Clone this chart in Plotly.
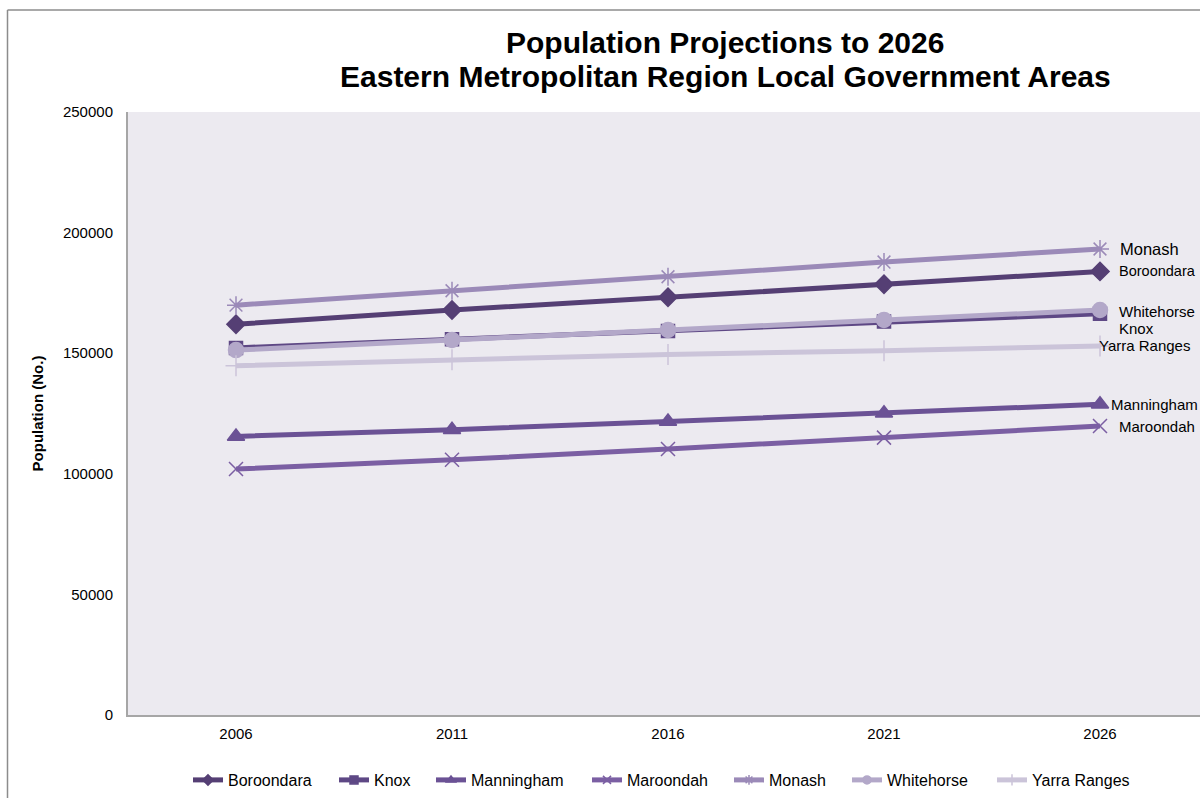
import plotly.graph_objects as go

# Population projections, Eastern Metropolitan Region LGAs
years = ["2006", "2011", "2016", "2021", "2026"]

boroondara = [162000, 167900, 173200, 178600, 183900]
knox = [152200, 155800, 159200, 163100, 166400]
manningham = [115500, 118300, 121700, 125100, 128800]
maroondah = [102000, 105800, 110300, 115000, 119800]
monash = [169900, 175900, 181700, 187800, 193200]
whitehorse = [151300, 155500, 159600, 163800, 167900]
yarra_ranges = [144800, 147300, 149500, 151000, 153000]

series = [
    ("Boroondara", boroondara, "#553f74", "diamond", 14),
    ("Knox", knox, "#5e4885", "square", 13),
    ("Manningham", manningham, "#6b5295", "triangle-up", 15),
    ("Maroondah", maroondah, "#7b5fa3", "x-thin-open", 14),
    ("Monash", monash, "#9b8ab8", "asterisk-open", 15),
    ("Whitehorse", whitehorse, "#b3a8c9", "circle", 15),
    ("Yarra Ranges", yarra_ranges, "#cbc4d9", "cross-thin-open", 15),
]

# End-of-line labels: (x offset px, downward shift px, font size)
end_labels = {
    "Monash": (18, 0, 16.5),
    "Boroondara": (17, 0, 14.5),
    "Whitehorse": (17, 1, 15),
    "Knox": (17, 15, 15),
    "Yarra Ranges": (-3, 0, 15),
    "Manningham": (9, 0, 15),
    "Maroondah": (17, 0, 15),
}

# Left edge of each legend entry's text, in pixels
legend_text_px = [228, 374, 471, 627, 769, 887, 1032]

FONT = "Liberation Sans, Arial"
PLOT_L, PLOT_R, PLOT_T, PLOT_B = 128, 1200, 112, 715
PW, PH = PLOT_R - PLOT_L, PLOT_B - PLOT_T


def px_x(px):
    return (px - PLOT_L) / PW


def px_y(py):
    return (PLOT_B - py) / PH


xs = list(range(len(years)))

fig = go.Figure()
legends = {}
for i, (name, vals, color, symbol, size) in enumerate(series):
    fig.add_trace(go.Scatter(
        x=xs, y=vals, name=name, mode="lines+markers", showlegend=False,
        line=dict(color=color, width=5),
        marker=dict(symbol=symbol, size=size, color=color,
                    line=dict(color=color, width=1.5)),
    ))
    # legend entry with a compact marker
    lname = "legend" if i == 0 else f"legend{i + 1}"
    fig.add_trace(go.Scatter(
        x=[None], y=[None], name=name, mode="lines+markers", showlegend=True,
        legend=lname,
        line=dict(color=color, width=5),
        marker=dict(symbol=symbol, size=8, color=color,
                    line=dict(color=color, width=1.5)),
    ))
    legends[lname] = dict(
        x=px_x(legend_text_px[i] - 40), y=px_y(780),
        xanchor="left", yanchor="middle", orientation="h",
        bgcolor="rgba(0,0,0,0)", borderwidth=0, itemwidth=30,
        font=dict(family=FONT, size=16, color="#000000"),
    )
    dx, dy, fs = end_labels[name]
    fig.add_annotation(
        x=xs[-1], y=vals[-1], xref="x", yref="y",
        text=name, showarrow=False, xanchor="left", yanchor="middle",
        xshift=dx, yshift=-dy,
        font=dict(family=FONT, size=fs, color="#000000"),
    )

for text, py in [("Population Projections to 2026", 42),
                 ("Eastern Metropolitan Region Local Government Areas", 76)]:
    fig.add_annotation(
        x=px_x(725), y=px_y(py), xref="paper", yref="paper",
        text=f"<b>{text}</b>", showarrow=False,
        xanchor="center", yanchor="middle",
        font=dict(family=FONT, size=30, color="#000000"),
    )

fig.update_layout(
    width=1200, height=798,
    margin=dict(l=PLOT_L, r=1200 - PLOT_R, t=PLOT_T, b=798 - PLOT_B),
    paper_bgcolor="#ffffff",
    plot_bgcolor="#eceaf0",
    showlegend=True,
    xaxis=dict(
        range=[-0.5, 4.5 - (1208 - PLOT_R) / 216],
        tickmode="array", tickvals=xs, ticktext=years,
        showgrid=False, zeroline=False,
        showline=True, linecolor="#a6a6a6", linewidth=2,
        ticks="outside", ticklen=4, tickcolor="rgba(0,0,0,0)",
        tickfont=dict(family=FONT, size=15, color="#000000"),
    ),
    yaxis=dict(
        range=[0, 250000], tickmode="linear", dtick=50000,
        tickformat="d",
        showgrid=False, zeroline=False,
        showline=True, linecolor="#a6a6a6", linewidth=2,
        ticks="outside", ticklen=10, tickcolor="rgba(0,0,0,0)",
        tickfont=dict(family=FONT, size=15, color="#000000"),
        title=dict(text="<b>Population (No.)</b>", standoff=16,
                   font=dict(family=FONT, size=15, color="#000000")),
    ),
    shapes=[
        dict(type="line", xref="paper", yref="paper",
             x0=px_x(7.5), x1=px_x(7.5), y0=px_y(10), y1=px_y(805),
             line=dict(color="#8c8c8c", width=1.5)),
        dict(type="line", xref="paper", yref="paper",
             x0=px_x(7.5), x1=px_x(1210), y0=px_y(10), y1=px_y(10),
             line=dict(color="#8c8c8c", width=1.5)),
    ],
)
fig.update_layout(**legends)

fig.write_html("out.html")
